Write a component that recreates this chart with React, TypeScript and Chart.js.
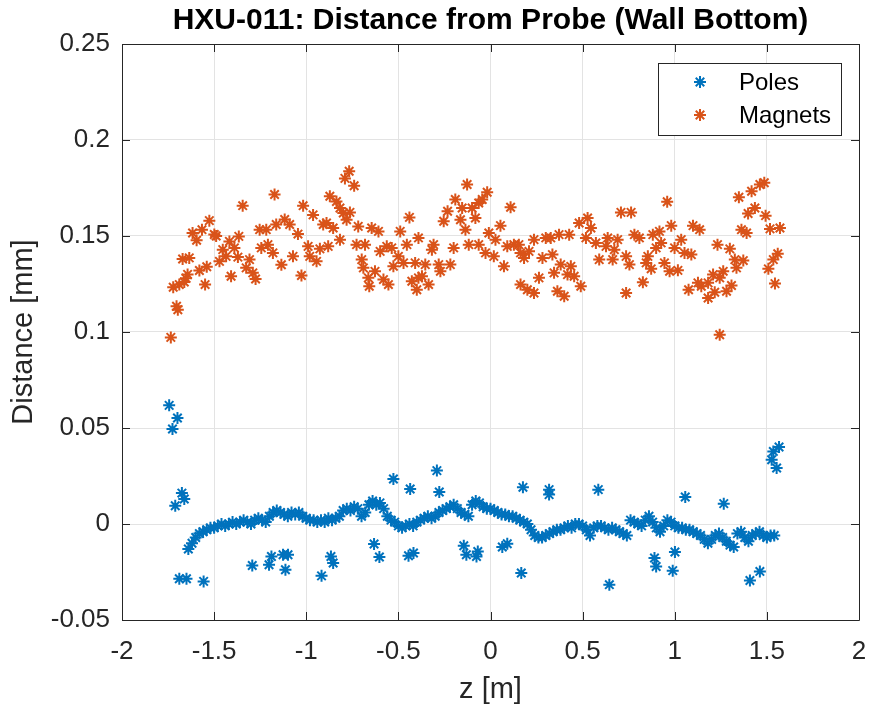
import React, { useEffect, useRef } from 'react';
import { Chart, registerables } from 'chart.js';

Chart.register(...registerables);

// ---- Data ----
const poleZ = [
  -1.64, -1.62, -1.60, -1.58, -1.56, -1.54, -1.52, -1.50, -1.48, -1.46, -1.44, -1.42, -1.40, -1.38, -1.36, -1.34,
  -1.32, -1.30, -1.28, -1.26, -1.24, -1.22, -1.20, -1.18, -1.16, -1.14, -1.12, -1.10, -1.08, -1.06, -1.04, -1.02,
  -1.00, -0.98, -0.96, -0.94, -0.92, -0.90, -0.88, -0.86, -0.84, -0.82, -0.80, -0.78, -0.76, -0.74, -0.72, -0.70,
  -0.68, -0.66, -0.64, -0.62, -0.60, -0.58, -0.56, -0.54, -0.52, -0.50, -0.48, -0.46, -0.44, -0.42, -0.40, -0.38,
  -0.36, -0.34, -0.32, -0.30, -0.28, -0.26, -0.24, -0.22, -0.20, -0.18, -0.16, -0.14, -0.12, -0.10, -0.08, -0.06,
  -0.04, -0.02, 0.00, 0.02, 0.04, 0.06, 0.08, 0.10, 0.12, 0.14, 0.16, 0.18, 0.20, 0.22, 0.24, 0.26,
  0.28, 0.30, 0.32, 0.34, 0.36, 0.38, 0.40, 0.42, 0.44, 0.46, 0.48, 0.50, 0.52, 0.54, 0.56, 0.58,
  0.60, 0.62, 0.64, 0.66, 0.68, 0.70, 0.72, 0.74, 0.76, 0.78, 0.80, 0.82, 0.84, 0.86, 0.88, 0.90,
  0.92, 0.94, 0.96, 0.98, 1.00, 1.02, 1.04, 1.06, 1.08, 1.10, 1.12, 1.14, 1.16, 1.18, 1.20, 1.22,
  1.24, 1.26, 1.28, 1.30, 1.32, 1.34, 1.36, 1.38, 1.40, 1.42, 1.44, 1.46, 1.48, 1.50, 1.52, 1.54,
  // outliers
  -1.744, -1.699, -1.726, -1.675, -1.662, -1.711, -1.689, -1.650, -1.557, -1.293, -1.202, -1.189, -1.126, -1.099,
  -1.113, -0.917, -0.866, -0.854, -0.632, -0.603, -0.445, -0.418, -0.145, -0.131, -0.076, -0.069, 0.064, 0.091,
  0.167, 0.645, -0.527, -0.291, -0.436, -0.278, 0.176, 0.318, 0.318, 0.585, 1.057, 1.266, 1.535, 1.566,
  1.526, 1.553, 0.890, 0.899, 1.001, 0.989, 1.408, 1.462,
];
const poleDist = [
  -0.013, -0.010, -0.007, -0.005, -0.004, -0.003, -0.002, -0.002, -0.001, 0.000, -0.001, 0.000, 0.001, 0.000, 0.001, 0.002,
  0.001, 0.000, 0.002, 0.003, 0.002, 0.001, 0.004, 0.006, 0.007, 0.006, 0.005, 0.004, 0.006, 0.005, 0.006, 0.004,
  0.003, 0.002, 0.002, 0.001, 0.002, 0.001, 0.003, 0.002, 0.003, 0.004, 0.007, 0.008, 0.007, 0.009, 0.008, 0.004,
  0.006, 0.010, 0.012, 0.010, 0.011, 0.008, 0.004, 0.002, 0.001, -0.001, -0.002, -0.001, 0.000, -0.001, 0.001, 0.002,
  0.003, 0.004, 0.003, 0.004, 0.006, 0.007, 0.008, 0.009, 0.010, 0.008, 0.006, 0.005, 0.004, 0.010, 0.012, 0.011,
  0.009, 0.008, 0.008, 0.007, 0.006, 0.005, 0.005, 0.004, 0.004, 0.003, 0.002, 0.001, 0.000, -0.003, -0.006, -0.007,
  -0.007, -0.006, -0.005, -0.004, -0.003, -0.003, -0.002, -0.001, -0.002, 0.000, 0.000, -0.001, -0.003, -0.006, -0.002, -0.001,
  -0.001, -0.002, -0.003, -0.002, -0.003, -0.004, -0.005, -0.006, 0.002, 0.001, 0.000, -0.001, 0.002, 0.004, 0.001, -0.002,
  -0.004, -0.001, 0.002, 0.001, -0.001, -0.002, -0.002, -0.003, -0.003, -0.004, -0.005, -0.006, -0.008, -0.010, -0.008, -0.006,
  -0.005, -0.007, -0.009, -0.011, -0.012, -0.005, -0.004, -0.007, -0.009, -0.006, -0.005, -0.004, -0.006, -0.007, -0.006, -0.006,
  // outliers
  0.0618, 0.0552, 0.0495, 0.0161, 0.013, 0.0095, -0.0285, -0.0285, -0.0299, -0.0216, -0.0212, -0.0169, -0.016, -0.016,
  -0.0238, -0.027, -0.0169, -0.0203, -0.0104, -0.0172, -0.0165, -0.0151, -0.0113, -0.016, -0.0169, -0.0143, -0.012, -0.0103,
  -0.0255, -0.0316, 0.0234, 0.0278, 0.0182, 0.0167, 0.0191, 0.0179, 0.0153, 0.0179, 0.0141, 0.0106, 0.0378, 0.0401,
  0.0335, 0.0292, -0.0177, -0.0221, -0.0146, -0.0243, -0.0294, -0.0247,
];

const magnetZ = [
  -1.735, -1.704, -1.697, -1.722, -1.689, -1.653, -1.644, -1.662, -1.671, -1.635, -1.580, -1.540, -1.549, -1.617,
  -1.595, -1.566, -1.526, -1.499, -1.489, -1.471, -1.453, -1.435, -1.417, -1.390, -1.366, -1.371, -1.408, -1.345,
  -1.326, -1.308, -1.290, -1.275, -1.253, -1.217, -1.244, -1.208, -1.181, -1.135, -1.163, -1.117, -1.090, -1.045,
  -1.172, -1.072, -1.026, -1.017, -0.990, -0.963, -0.981, -0.944, -0.926, -0.908, -0.890, -0.881, -0.854, -0.817,
  -0.872, -0.836, -0.817, -0.799, -0.763, -0.781, -0.790, -0.767, -0.740, -0.718, -0.727, -0.681, -0.699, -0.690,
  -0.663, -0.658, -0.645, -0.608, -0.627, -0.581, -0.554, -0.599, -0.563, -0.536, -0.527, -0.500, -0.472, -0.454,
  -0.490, -0.440, -0.391, -0.427, -0.391, -0.372, -0.400, -0.336, -0.409, -0.354, -0.318, -0.309, -0.281, -0.272,
  -0.218, -0.254, -0.233, -0.191, -0.163, -0.154, -0.136, -0.127, -0.100, -0.082, -0.064, -0.045, -0.018, -0.200,
  -0.118, -0.064, -0.027, -0.009, 0.018, 0.027, 0.054, 0.073, 0.091, 0.109, 0.127, 0.154, 0.163, 0.182,
  0.209, 0.236, 0.282, 0.300, 0.327, 0.336, 0.372, 0.427, 0.481, 0.527, 0.545, 0.518, 0.572, 0.590,
  0.627, 0.636, 0.163, 0.200, 0.236, 0.263, 0.345, 0.381, 0.363, 0.400, 0.418, 0.454, 0.490, 0.436,
  0.708, 0.763, 0.959, 0.690, 0.672, 0.663, 0.736, 0.754, 0.827, 0.736, 0.781, 0.808, 0.881, 0.917,
  0.899, 0.926, 0.854, 0.845, 0.872, 0.944, 0.972, 1.017, 0.981, 0.999, 1.035, 1.053, 1.090, 1.099,
  1.135, 1.232, 1.299, 1.326, 1.372, 1.335, 1.208, 1.263, 1.308, 1.281, 1.244, 1.075, 1.126, 1.144,
  1.181, 1.217, 1.181, 1.244, 1.348, 1.417, 1.462, 1.486, 1.398, 1.435, 1.493, 1.362, 1.390, 1.517,
  1.571, 1.559, 1.535, 1.508, 1.544,
];
const magnetDist = [
  0.0972, 0.1134, 0.1116, 0.1233, 0.1247, 0.128, 0.130, 0.126, 0.138, 0.1386, 0.132, 0.134, 0.1247, 0.1516,
  0.1478, 0.1533, 0.158, 0.1508, 0.150, 0.1368, 0.1429, 0.1394, 0.1472, 0.1438, 0.1498, 0.139, 0.129, 0.1658,
  0.1334, 0.1377, 0.1308, 0.1276, 0.1533, 0.1533, 0.1438, 0.1455, 0.1412, 0.135, 0.156, 0.1586, 0.156, 0.151,
  0.1716, 0.1394, 0.1294, 0.1658, 0.1446, 0.161, 0.1394, 0.1368, 0.1433, 0.156, 0.1568, 0.1446, 0.1542, 0.148,
  0.1707, 0.168, 0.1646, 0.162, 0.1623, 0.1585, 0.180, 0.1837, 0.1762, 0.155, 0.1455, 0.1455, 0.1377, 0.1334,
  0.1282, 0.1238, 0.1542, 0.1524, 0.1316, 0.1273, 0.1247, 0.142, 0.1446, 0.1438, 0.1342, 0.1394, 0.136, 0.1455,
  0.1524, 0.1597, 0.149, 0.1264, 0.1282, 0.129, 0.122, 0.1247, 0.136, 0.1351, 0.1429, 0.1455, 0.1351, 0.1316,
  0.1351, 0.1577, 0.1629, 0.169, 0.1585, 0.1646, 0.1533, 0.1768, 0.1646, 0.1594, 0.1672, 0.169, 0.1728, 0.1438,
  0.1455, 0.1455, 0.1412, 0.1516, 0.1394, 0.1481, 0.1554, 0.1342, 0.1446, 0.165, 0.1455, 0.1455, 0.1412, 0.1386,
  0.142, 0.1481, 0.1386, 0.149, 0.149, 0.1403, 0.1507, 0.1507, 0.1568, 0.1594, 0.1542, 0.149, 0.1464, 0.1377,
  0.1446, 0.149, 0.1247, 0.122, 0.1203, 0.1282, 0.1308, 0.1351, 0.1212, 0.1186, 0.1299, 0.129, 0.1238, 0.1342,
  0.1623, 0.1623, 0.1678, 0.1481, 0.1429, 0.1377, 0.1394, 0.1351, 0.1259, 0.1203, 0.1507, 0.149, 0.1507, 0.1524,
  0.1438, 0.1464, 0.1394, 0.136, 0.1329, 0.136, 0.1316, 0.1321, 0.1554, 0.1438, 0.1481, 0.1412, 0.1403, 0.1554,
  0.1533, 0.1455, 0.1433, 0.1377, 0.1372, 0.1334, 0.1299, 0.1316, 0.1242, 0.1212, 0.1282, 0.122, 0.1256, 0.1238,
  0.1177, 0.1207, 0.1256, 0.0986, 0.1702, 0.1733, 0.1768, 0.1777, 0.1617, 0.1646, 0.1606, 0.1533, 0.1516, 0.1537,
  0.1542, 0.1408, 0.1377, 0.1329, 0.1252,
];

const xTickValues = [-2, -1.5, -1, -0.5, 0, 0.5, 1, 1.5, 2];
const xTickLabels = ['-2', '-1.5', '-1', '-0.5', '0', '0.5', '1', '1.5', '2'];
const yTickValues = [-0.05, 0, 0.05, 0.1, 0.15, 0.2, 0.25];
const yTickLabels = ['-0.05', '0', '0.05', '0.1', '0.15', '0.2', '0.25'];

const seriesNames = ['Poles', 'Magnets'];
const seriesColors = ['#0072BD', '#D95319'];
const chartTitle = 'HXU-011: Distance from Probe (Wall Bottom)';
const xAxisTitle = 'z [m]';
const yAxisTitle = 'Distance [mm]';

const FONT = "'Liberation Sans', Arial, Helvetica, sans-serif";
const AXIS_COLOR = '#262626';
const MARK_R = 6;
const MARK_W = 2;

function drawStar(ctx: CanvasRenderingContext2D, x: number, y: number, r: number, color: string, lw: number) {
  ctx.save();
  ctx.strokeStyle = color;
  ctx.lineWidth = lw;
  ctx.beginPath();
  for (let k = 0; k < 4; k++) {
    const a = (k * Math.PI) / 4;
    const dx = Math.cos(a) * r;
    const dy = Math.sin(a) * r;
    ctx.moveTo(x - dx, y - dy);
    ctx.lineTo(x + dx, y + dy);
  }
  ctx.stroke();
  ctx.restore();
}

const framePlugin = {
  id: 'matlabFrame',
  afterDatasetsDraw(chart: any) {
    const { ctx, chartArea } = chart;
    const { left, right, top, bottom } = chartArea;
    const xs = chart.scales.x;
    const ys = chart.scales.y;
    const tl = 8;
    ctx.save();
    ctx.strokeStyle = AXIS_COLOR;
    ctx.lineWidth = 1;
    ctx.beginPath();
    ctx.rect(Math.round(left) + 0.5, Math.round(top) + 0.5, Math.round(right - left), Math.round(bottom - top));
    ctx.stroke();
    ctx.beginPath();
    xTickValues.forEach((v) => {
      const px = Math.round(xs.getPixelForValue(v)) + 0.5;
      ctx.moveTo(px, bottom);
      ctx.lineTo(px, bottom - tl);
      ctx.moveTo(px, top);
      ctx.lineTo(px, top + tl);
    });
    yTickValues.forEach((v) => {
      const py = Math.round(ys.getPixelForValue(v)) + 0.5;
      ctx.moveTo(left, py);
      ctx.lineTo(left + tl, py);
      ctx.moveTo(right, py);
      ctx.lineTo(right - tl, py);
    });
    ctx.stroke();
    ctx.restore();
  },
  afterDraw(chart: any) {
    const { ctx } = chart;
    const bx = 658, by = 63, bw = 183, bh = 72;
    ctx.save();
    ctx.fillStyle = '#ffffff';
    ctx.fillRect(bx, by, bw, bh);
    ctx.strokeStyle = AXIS_COLOR;
    ctx.lineWidth = 1;
    ctx.strokeRect(bx + 0.5, by + 0.5, bw, bh);
    ctx.font = `24px ${FONT}`;
    ctx.textBaseline = 'middle';
    ctx.textAlign = 'left';
    ctx.fillStyle = '#000000';
    const rows = [82, 115];
    chart.data.datasets.forEach((ds: any, i: number) => {
      drawStar(ctx, 700, rows[i], MARK_R, ds.borderColor, MARK_W);
      ctx.fillText(ds.label, 739, rows[i] + 1);
    });
    ctx.restore();
  },
};

export default function App() {
  const canvasRef = useRef<HTMLCanvasElement | null>(null);

  useEffect(() => {
    const canvas = canvasRef.current;
    if (!canvas) return;
    const poles = poleZ.map((z, i) => ({ x: z, y: poleDist[i] }));
    const magnets = magnetZ.map((z, i) => ({ x: z, y: magnetDist[i] }));
    const ds = (i: number, data: any[]) => ({
      label: seriesNames[i],
      data,
      borderColor: seriesColors[i],
      backgroundColor: seriesColors[i],
      pointStyle: 'star' as const,
      pointRadius: MARK_R,
      pointHoverRadius: MARK_R,
      pointBorderWidth: MARK_W,
      showLine: false,
    });
    const chart = new Chart(canvas, {
      type: 'scatter',
      data: { datasets: [ds(0, poles), ds(1, magnets)] },
      options: {
        responsive: false,
        animation: false,
        events: [],
        layout: { padding: { left: 0, right: 13, top: 0, bottom: 0 } },
        plugins: {
          legend: { display: false },
          tooltip: { enabled: false },
          title: {
            display: true,
            text: chartTitle,
            fullSize: false,
            color: '#000000',
            font: { family: FONT, size: 30, weight: 'bold' },
            padding: { top: 3, bottom: 5 },
          },
        },
        scales: {
          x: {
            type: 'linear',
            min: -2,
            max: 2,
            afterBuildTicks: (s: any) => {
              s.ticks = xTickValues.map((v) => ({ value: v }));
            },
            afterFit: (s: any) => {
              s.height = 91;
              s.paddingLeft = 0;
              s.paddingRight = 0;
            },
            ticks: {
              autoSkip: false,
              maxRotation: 0,
              padding: 16,
              color: AXIS_COLOR,
              font: { family: FONT, size: 26 },
              callback: (_v: any, i: number) => xTickLabels[i],
            },
            grid: { color: '#e3e3e3', lineWidth: 1, drawTicks: false },
            border: { display: false },
            title: {
              display: true,
              text: xAxisTitle,
              color: AXIS_COLOR,
              font: { family: FONT, size: 29 },
              padding: { top: 0, bottom: 4 },
            },
          },
          y: {
            type: 'linear',
            min: -0.05,
            max: 0.25,
            afterBuildTicks: (s: any) => {
              s.ticks = yTickValues.map((v) => ({ value: v }));
            },
            afterFit: (s: any) => {
              s.width = 122;
              s.paddingTop = 0;
              s.paddingBottom = 0;
            },
            ticks: {
              autoSkip: false,
              padding: 12,
              color: AXIS_COLOR,
              font: { family: FONT, size: 26 },
              callback: (_v: any, i: number) => yTickLabels[i],
            },
            grid: { color: '#e3e3e3', lineWidth: 1, drawTicks: false },
            border: { display: false },
            title: {
              display: true,
              text: yAxisTitle,
              color: AXIS_COLOR,
              font: { family: FONT, size: 29 },
              padding: { top: 7, bottom: 0 },
            },
          },
        },
      },
      plugins: [framePlugin],
    });
    return () => chart.destroy();
  }, []);

  return (
    <div style={{ position: 'fixed', left: 0, top: 0, width: 872, height: 711, background: '#ffffff' }}>
      <canvas ref={canvasRef} width={872} height={711} style={{ display: 'block' }} />
    </div>
  );
}
